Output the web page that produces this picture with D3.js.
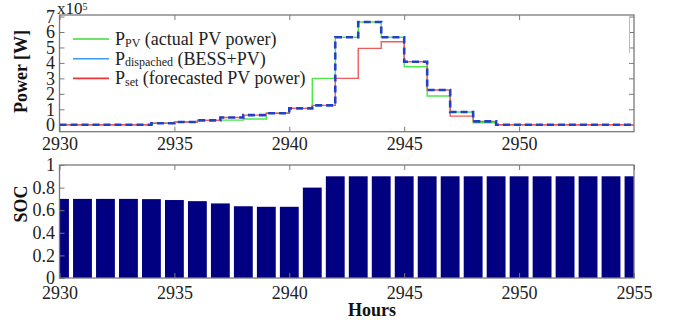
<!DOCTYPE html>
<html>
<head>
<meta charset="utf-8">
<script src="https://cdn.jsdelivr.net/npm/d3@7"></script>
<style>
  body { margin: 0; background: #fff; }
  svg, svg text { font-family: "Liberation Serif", "Times New Roman", serif; }
</style>
</head>
<body>
<svg id="chart" width="673" height="326"></svg>
<script>
// hours (start of each step)
var hours = d3.range(2930, 2956);

// power in units of 1e5 W, one value per hour step
var pPV = [0, 0, 0, 0, 0.1, 0.18, 0.28, 0.3, 0.37, 0.74, 1.06, 3.0, 5.66, 6.65, 5.66, 3.75, 1.86, 0.82, 0.13, 0, 0, 0, 0, 0, 0, 0];
var pDispatched = [0, 0, 0, 0, 0.1, 0.18, 0.28, 0.47, 0.62, 0.74, 1.06, 1.25, 5.66, 6.65, 5.66, 4.08, 2.25, 0.82, 0.22, 0, 0, 0, 0, 0, 0, 0];
var pSet = [0, 0, 0, 0, 0.1, 0.18, 0.28, 0.47, 0.62, 0.74, 1.06, 1.25, 3.0, 4.94, 5.37, 4.08, 2.25, 0.56, 0.22, 0, 0, 0, 0, 0, 0, 0];

// state of charge per hour
var soc = [0.70, 0.70, 0.70, 0.70, 0.698, 0.69, 0.68, 0.66, 0.635, 0.63, 0.63, 0.80, 0.90, 0.90, 0.90, 0.90, 0.90, 0.90, 0.90, 0.90, 0.90, 0.90, 0.90, 0.90, 0.90, 0.90];

var powerTicks = [0, 1, 2, 3, 4, 5, 6, 7];
var socTicks = [0, 0.2, 0.4, 0.6, 0.8, 1];
var topXTicks = [2930, 2935, 2940, 2945, 2950];
var bottomXTicks = [2930, 2935, 2940, 2945, 2950, 2955];

var legendItems = [
  { main: "P", sub: "PV", rest: " (actual PV power)", color: "#3ddc3d" },
  { main: "P", sub: "dispached", rest: " (BESS+PV)", color: "#3d9bf5" },
  { main: "P", sub: "set", rest: " (forecasted PV power)", color: "#ee3333" }
];

var svg = d3.select("#chart");
var left = 59.5, right = 634;
var axisColor = "#7a7a7a";
var serif = "Liberation Serif, Times New Roman, serif";

var x = d3.scaleLinear().domain([2930, 2955]).range([left, right]);

// ---------- top panel ----------
var y1 = d3.scaleLinear().domain([-0.45, 7.1]).range([131.7, 15]);
var topPanel = svg.append("g");

topPanel.append("defs").append("clipPath").attr("id", "clipTop")
  .append("rect").attr("x", left).attr("y", 15).attr("width", right - left).attr("height", 131.7 - 15);

function styleAxis(g) {
  g.attr("font-family", serif).attr("font-size", 18);
  g.select(".domain").remove();
  g.selectAll(".tick line").attr("stroke", axisColor);
  g.selectAll("text").attr("fill", "#222")
    .attr("font-family", serif).attr("font-size", 18);
}

topPanel.append("g").attr("transform", "translate(0,131.7)")
  .call(d3.axisBottom(x).tickValues(topXTicks).tickFormat(d3.format("d")).tickSizeInner(-5).tickSizeOuter(0).tickPadding(6))
  .call(styleAxis);
topPanel.append("g").attr("transform", "translate(0,15)")
  .call(d3.axisTop(x).tickValues(topXTicks).tickFormat("").tickSizeInner(-5).tickSizeOuter(0))
  .call(styleAxis);
topPanel.append("g").attr("transform", "translate(" + left + ",0)")
  .call(d3.axisLeft(y1).tickValues(powerTicks).tickFormat(d3.format("d")).tickSizeInner(-5).tickSizeOuter(0).tickPadding(4.5))
  .call(styleAxis);
topPanel.append("g").attr("transform", "translate(" + right + ",0)")
  .call(d3.axisRight(y1).tickValues(powerTicks).tickFormat("").tickSizeInner(-5).tickSizeOuter(0))
  .call(styleAxis);
topPanel.append("rect").attr("x", left).attr("y", 15).attr("width", right - left).attr("height", 131.7 - 15)
  .attr("fill", "none").attr("stroke", axisColor).attr("stroke-width", 1.3);

function stepData(vals) {
  var pts = hours.map(function(h, i) { return [h, vals[i]]; });
  pts.push([2956, vals[vals.length - 1]]);
  return pts;
}
var line = d3.line()
  .x(function(d) { return x(d[0]); })
  .y(function(d) { return y1(d[1]); })
  .curve(d3.curveStepAfter);

var lines = topPanel.append("g").attr("clip-path", "url(#clipTop)");
lines.append("path").datum(stepData(pPV)).attr("d", line)
  .attr("fill", "none").attr("stroke", "#4be84b").attr("stroke-width", 1.4);
lines.append("path").datum(stepData(pSet)).attr("d", line)
  .attr("fill", "none").attr("stroke", "#f05a5a").attr("stroke-width", 1.4);
lines.append("path").datum(stepData(pDispatched)).attr("d", line)
  .attr("fill", "none").attr("stroke", "#2340c8").attr("stroke-width", 2.6)
  .attr("stroke-dasharray", "7,4");

// faint vertical mark near right edge
topPanel.append("line").attr("x1", 629.5).attr("x2", 629.5).attr("y1", 17).attr("y2", 53)
  .attr("stroke", "#bbb").attr("stroke-width", 1);

// x10^5 multiplier
var mult = topPanel.append("text").attr("x", 57).attr("y", 14).attr("fill", "#222").attr("font-size", 17);
mult.append("tspan").text("x10");
mult.append("tspan").attr("dy", -4.5).attr("font-size", 10).text("5");

// legend
var legend = topPanel.append("g");
legendItems.forEach(function(item, i) {
  var ly = 39 + i * 19.7;
  legend.append("line").attr("x1", 73).attr("x2", 109).attr("y1", ly).attr("y2", ly)
    .attr("stroke", item.color).attr("stroke-width", 1.6);
  var t = legend.append("text").attr("x", 115).attr("y", ly + 6).attr("fill", "#222").attr("font-size", 18);
  t.append("tspan").text(item.main);
  t.append("tspan").attr("dy", 1.5).attr("font-size", 12).text(item.sub);
  t.append("tspan").attr("dy", -1.5).text(item.rest);
});

topPanel.append("text")
  .attr("transform", "translate(27,71.5) rotate(-90)")
  .attr("text-anchor", "middle").attr("fill", "#111")
  .attr("font-size", 18).attr("font-weight", "bold")
  .text("Power [W]");

// ---------- bottom panel ----------
var y2 = d3.scaleLinear().domain([0, 1]).range([278, 165]);
var bottomPanel = svg.append("g");

bottomPanel.append("defs").append("clipPath").attr("id", "clipBottom")
  .append("rect").attr("x", left).attr("y", 165).attr("width", right - left).attr("height", 278 - 165);

var barW = 0.82;
bottomPanel.append("g").attr("clip-path", "url(#clipBottom)")
  .selectAll("rect")
  .data(hours.map(function(h, i) { return { hour: h, soc: soc[i] }; }))
  .join("rect")
    .attr("x", function(d) { return x(d.hour - barW / 2); })
    .attr("y", function(d) { return y2(d.soc); })
    .attr("width", x(2930 + barW) - x(2930))
    .attr("height", function(d) { return y2(0) - y2(d.soc); })
    .attr("fill", "#000080");

bottomPanel.append("g").attr("transform", "translate(0,278)")
  .call(d3.axisBottom(x).tickValues(bottomXTicks).tickFormat(d3.format("d")).tickSizeInner(-5).tickSizeOuter(0).tickPadding(8))
  .call(styleAxis);
bottomPanel.append("g").attr("transform", "translate(0,165)")
  .call(d3.axisTop(x).tickValues(bottomXTicks).tickFormat("").tickSizeInner(-5).tickSizeOuter(0))
  .call(styleAxis);
bottomPanel.append("g").attr("transform", "translate(" + left + ",0)")
  .call(d3.axisLeft(y2).tickValues(socTicks).tickFormat(function(d) { return d === 0 || d === 1 ? String(d) : d3.format(".1f")(d); })
    .tickSizeInner(-5).tickSizeOuter(0).tickPadding(4.5))
  .call(styleAxis);
bottomPanel.append("rect").attr("x", left).attr("y", 165).attr("width", right - left).attr("height", 278 - 165)
  .attr("fill", "none").attr("stroke", axisColor).attr("stroke-width", 1.3);

bottomPanel.append("text")
  .attr("transform", "translate(27,204) rotate(-90)")
  .attr("text-anchor", "middle").attr("fill", "#111")
  .attr("font-size", 18).attr("font-weight", "bold")
  .text("SOC");

bottomPanel.append("text")
  .attr("x", 372).attr("y", 316)
  .attr("text-anchor", "middle").attr("fill", "#111")
  .attr("font-size", 18).attr("font-weight", "bold")
  .text("Hours");
</script>
</body>
</html>
